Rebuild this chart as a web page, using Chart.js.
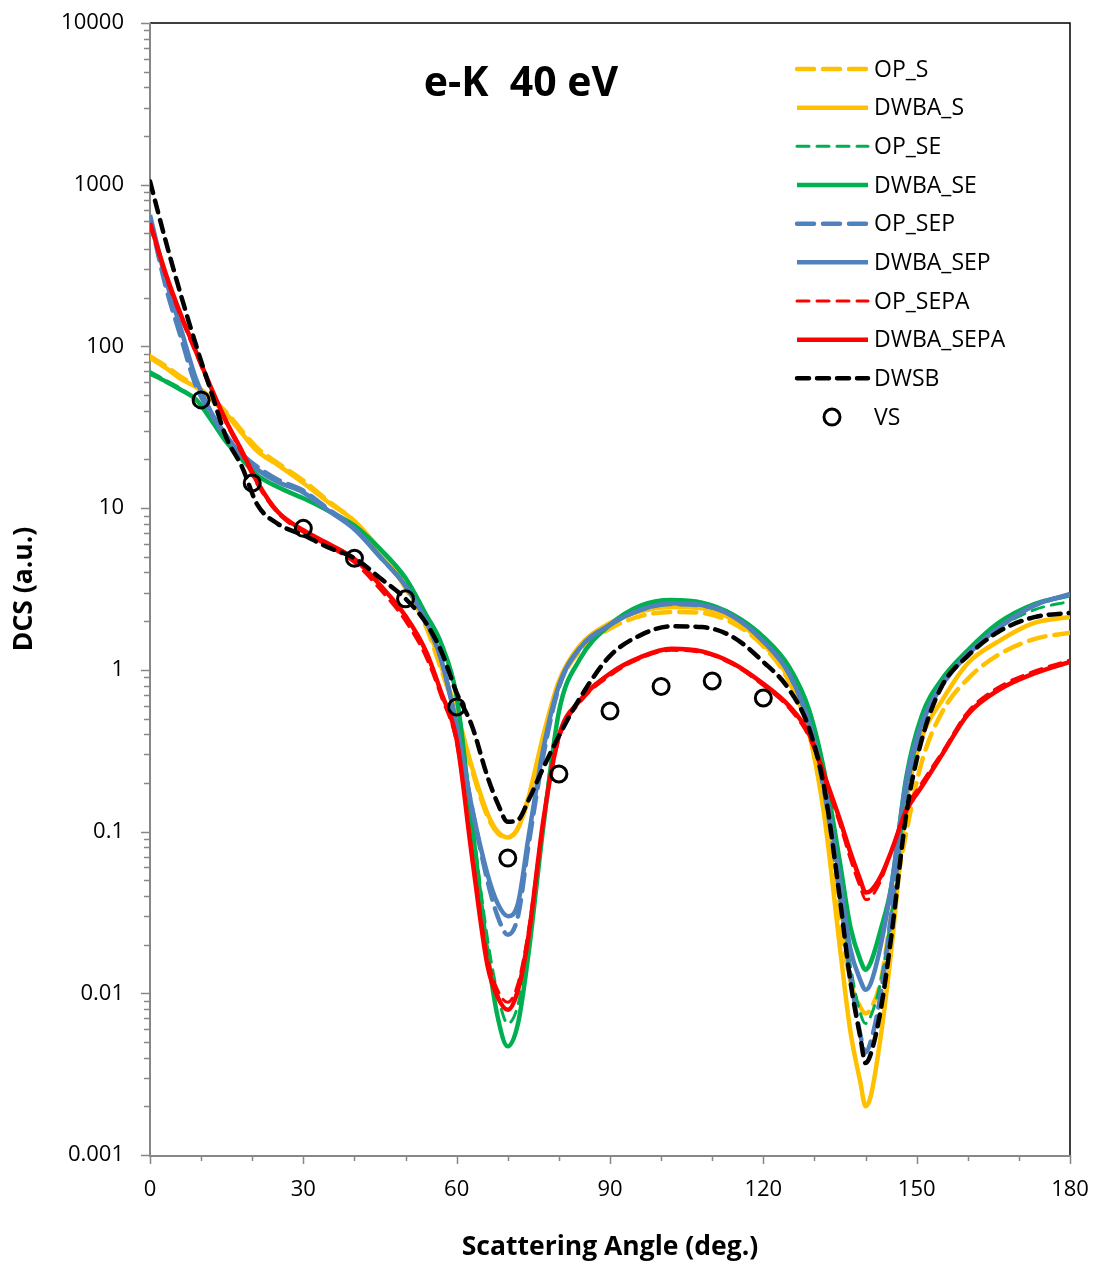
<!DOCTYPE html>
<html><head><meta charset="utf-8">
<script src="https://cdn.jsdelivr.net/npm/chart.js@4.4.1/dist/chart.umd.min.js"></script>
<style>html,body{margin:0;padding:0;background:#fff;} canvas{display:block;}</style>
</head><body>
<canvas id="c" width="1093" height="1261"></canvas>
<script>
// ---------------- data ----------------
const angles = [0, 3, 6, 9, 12, 15, 18, 21, 25, 30, 35, 40, 45, 50, 54, 57, 60, 63, 66, 68, 70, 72, 74, 77, 80, 84, 90, 96, 102, 108, 114, 120, 125, 129, 132, 135, 137, 139, 140, 141, 143, 145, 148, 151, 155, 160, 166, 173, 180];

const OP_S = [87, 76, 65, 57, 48, 39, 30, 23.5, 19, 14.8, 11, 8.3, 5.4, 3.2, 1.85, 1.0, 0.52, 0.24, 0.125, 0.098, 0.092, 0.105, 0.16, 0.38, 0.8, 1.3, 1.8, 2.15, 2.28, 2.25, 1.95, 1.4, 0.85, 0.4, 0.13, 0.028, 0.012, 0.0082, 0.0075, 0.008, 0.012, 0.03, 0.1, 0.27, 0.55, 0.88, 1.24, 1.55, 1.7];
const DWBA_S = [85, 74, 63, 56, 47, 38, 29, 22.5, 18.5, 14.3, 10.8, 8.3, 5.5, 3.3, 1.95, 1.05, 0.55, 0.25, 0.13, 0.1, 0.092, 0.105, 0.16, 0.4, 0.85, 1.4, 1.95, 2.3, 2.45, 2.4, 2.05, 1.45, 0.88, 0.4, 0.12, 0.019, 0.0059, 0.0028, 0.002, 0.0023, 0.0055, 0.018, 0.15, 0.38, 0.65, 1.1, 1.5, 1.95, 2.12];
const OP_SE = [70, 62, 55, 47, 36, 26, 20, 16, 13.5, 11.5, 9.5, 7.8, 5.6, 3.6, 2.15, 1.4, 0.7, 0.12, 0.022, 0.01, 0.0065, 0.0085, 0.02, 0.12, 0.55, 1.15, 1.9, 2.45, 2.65, 2.55, 2.15, 1.55, 1.0, 0.52, 0.2, 0.045, 0.015, 0.0075, 0.0065, 0.0072, 0.012, 0.03, 0.17, 0.45, 0.8, 1.22, 1.8, 2.35, 2.65];
const DWBA_SE = [68, 61, 54, 47, 35, 25.5, 20, 16, 13.5, 11.5, 9.6, 7.8, 5.6, 3.7, 2.2, 1.45, 0.68, 0.11, 0.018, 0.0072, 0.0047, 0.0065, 0.017, 0.11, 0.55, 1.15, 1.9, 2.5, 2.7, 2.6, 2.2, 1.6, 1.05, 0.56, 0.23, 0.064, 0.026, 0.016, 0.014, 0.0155, 0.025, 0.045, 0.22, 0.52, 0.88, 1.32, 1.95, 2.55, 2.9];
const OP_SEP = [620, 240, 115, 57, 38, 27, 21.5, 18, 15, 12.8, 9.8, 7.5, 5.0, 3.3, 2.0, 1.15, 0.45, 0.14, 0.05, 0.03, 0.023, 0.03, 0.08, 0.3, 0.78, 1.35, 1.9, 2.35, 2.55, 2.5, 2.15, 1.5, 0.95, 0.45, 0.17, 0.04, 0.013, 0.0055, 0.0043, 0.005, 0.01, 0.03, 0.18, 0.45, 0.8, 1.25, 1.82, 2.5, 2.92];
const DWBA_SEP = [650, 265, 130, 63, 39, 28, 21, 17.3, 14.5, 12.5, 9.6, 7.4, 5.0, 3.3, 2.0, 1.15, 0.45, 0.14, 0.055, 0.036, 0.03, 0.036, 0.09, 0.33, 0.8, 1.35, 1.9, 2.35, 2.58, 2.52, 2.15, 1.5, 0.95, 0.47, 0.19, 0.05, 0.019, 0.012, 0.0105, 0.0115, 0.02, 0.045, 0.21, 0.47, 0.82, 1.25, 1.82, 2.5, 2.95];
const OP_SEPA = [560, 275, 152, 90, 53, 33, 21.5, 14, 9.3, 7.1, 5.8, 4.6, 3.15, 2.0, 1.2, 0.68, 0.35, 0.075, 0.017, 0.0105, 0.0088, 0.0115, 0.024, 0.12, 0.37, 0.62, 0.92, 1.18, 1.32, 1.28, 1.08, 0.8, 0.58, 0.38, 0.21, 0.11, 0.068, 0.045, 0.038, 0.039, 0.05, 0.075, 0.14, 0.2, 0.31, 0.55, 0.78, 0.98, 1.15];
const DWBA_SEPA = [580, 287, 158, 93, 55, 34, 22.5, 14.5, 9.5, 7.3, 6.0, 4.85, 3.35, 2.15, 1.3, 0.72, 0.37, 0.07, 0.015, 0.0095, 0.0079, 0.0105, 0.022, 0.12, 0.39, 0.64, 0.95, 1.2, 1.35, 1.3, 1.1, 0.82, 0.6, 0.4, 0.22, 0.118, 0.075, 0.05, 0.042, 0.043, 0.053, 0.075, 0.135, 0.19, 0.3, 0.53, 0.75, 0.95, 1.12];
const DWSB = [1050, 457, 210, 102, 52, 27, 18, 10.5, 8.0, 6.8, 5.7, 4.9, 3.7, 2.75, 1.95, 1.3, 0.72, 0.45, 0.22, 0.15, 0.115, 0.118, 0.155, 0.25, 0.39, 0.66, 1.22, 1.64, 1.86, 1.84, 1.6, 1.12, 0.76, 0.43, 0.18, 0.038, 0.012, 0.0053, 0.0037, 0.0042, 0.008, 0.022, 0.13, 0.37, 0.8, 1.22, 1.72, 2.12, 2.25];

const vsAngles = [10, 20, 30, 40, 50, 60, 70, 80, 90, 100, 110, 120];
const VS = [46.7, 14.3, 7.5, 4.9, 2.75, 0.59, 0.0686, 0.227, 0.556, 0.79, 0.853, 0.67];

const xTickLabels = ['0', '30', '60', '90', '120', '150', '180'];
const yTickLabels = ['0.001', '0.01', '0.1', '1', '10', '100', '1000', '10000'];
const chartTitle = 'e-K  40 eV';
const xTitle = 'Scattering Angle (deg.)';
const yTitle = 'DCS (a.u.)';

// ---------------- build ----------------
const FONT = "'Open Sans', 'DejaVu Sans', sans-serif";
Chart.defaults.font.family = FONT;
Chart.defaults.color = '#000';

function pts(xs, ys) { return xs.map((x, i) => ({ x: x, y: ys[i] })); }

const lineSeries = [
  { label: 'OP_S', values: OP_S, color: '#FFC000', width: 4.5, dash: [17, 9] },
  { label: 'DWBA_S', values: DWBA_S, color: '#FFC000', width: 4.5, dash: [] },
  { label: 'OP_SE', values: OP_SE, color: '#00B050', width: 3, dash: [12, 8] },
  { label: 'DWBA_SE', values: DWBA_SE, color: '#00B050', width: 4.5, dash: [] },
  { label: 'OP_SEP', values: OP_SEP, color: '#4F81BD', width: 4.5, dash: [17, 9] },
  { label: 'DWBA_SEP', values: DWBA_SEP, color: '#4F81BD', width: 4.5, dash: [] },
  { label: 'OP_SEPA', values: OP_SEPA, color: '#FF0000', width: 3, dash: [12, 8] },
  { label: 'DWBA_SEPA', values: DWBA_SEPA, color: '#FF0000', width: 4.5, dash: [] },
  { label: 'DWSB', values: DWSB, color: '#000000', width: 4.5, dash: [12, 8] }
];

const datasets = lineSeries.map((s, i) => ({
  label: s.label,
  data: pts(angles, s.values),
  borderColor: s.color,
  backgroundColor: s.color,
  borderWidth: s.width,
  borderDash: s.dash,
  borderCapStyle: s.dash.length ? 'round' : 'butt',
  pointRadius: 0,
  cubicInterpolationMode: 'monotone',
  fill: false,
  order: 20 - i
}));
datasets.push({
  label: 'VS',
  data: pts(vsAngles, VS),
  showLine: false,
  pointRadius: 8,
  pointBorderWidth: 3,
  pointBorderColor: '#000',
  pointBackgroundColor: 'rgba(0,0,0,0)',
  borderColor: '#000',
  order: 1
});

const PLOT = { left: 150, right: 1070, top: 23, bottom: 1155 };

const framePlugin = {
  id: 'frame',
  beforeDatasetsDraw(chart) {
    const ctx = chart.ctx, xs = chart.scales.x, ys = chart.scales.y, a = chart.chartArea;
    ctx.save();
    ctx.strokeStyle = '#000'; ctx.lineWidth = 1.5;
    ctx.beginPath();
    ctx.moveTo(a.left, a.top); ctx.lineTo(a.right, a.top); ctx.lineTo(a.right, a.bottom);
    ctx.stroke();
    ctx.strokeStyle = '#878787'; ctx.lineWidth = 2;
    ctx.beginPath();
    ctx.moveTo(a.left, a.top); ctx.lineTo(a.left, a.bottom + 1); ctx.lineTo(a.right, a.bottom + 1);
    ctx.stroke();
    ctx.lineWidth = 1.5;
    ctx.beginPath();
    for (let v = 0; v <= 180; v += 10) {
      const px = Math.round(xs.getPixelForValue(v)) + 0.5;
      const len = (v % 30 === 0) ? 9 : 6;
      ctx.moveTo(px, a.bottom); ctx.lineTo(px, a.bottom + len);
    }
    for (let e = -3; e <= 4; e++) {
      for (let k = 1; k <= 9; k++) {
        if (e === 4 && k > 1) break;
        const v = k * Math.pow(10, e);
        const py = Math.round(ys.getPixelForValue(v)) + 0.5;
        const len = (k === 1) ? 9 : 6;
        ctx.moveTo(a.left - len, py); ctx.lineTo(a.left, py);
      }
    }
    ctx.stroke();
    ctx.restore();
  },
  afterDraw(chart) {
    const ctx = chart.ctx;
    ctx.save();
    ctx.fillStyle = '#000';
    ctx.font = "bold 41px " + FONT;
    ctx.textAlign = 'center'; ctx.textBaseline = 'middle';
    ctx.fillText(chartTitle, 521, 84);
    const x0 = 797, x1 = 868, tx = 874, y0 = 69, dy = 38.67;
    ctx.font = "23px " + FONT;
    ctx.textAlign = 'left';
    chart.data.datasets.forEach((ds, i) => {
      const y = y0 + i * dy;
      if (ds.showLine === false) {
        ctx.setLineDash([]);
        ctx.strokeStyle = ds.pointBorderColor; ctx.lineWidth = ds.pointBorderWidth;
        ctx.beginPath(); ctx.arc(832, y, ds.pointRadius, 0, Math.PI * 2); ctx.stroke();
      } else {
        ctx.strokeStyle = ds.borderColor; ctx.lineWidth = ds.borderWidth;
        ctx.setLineDash(ds.borderDash);
        ctx.lineCap = ds.borderCapStyle;
        ctx.beginPath(); ctx.moveTo(x0, y); ctx.lineTo(x1, y); ctx.stroke();
      }
      ctx.setLineDash([]);
      ctx.fillStyle = '#000';
      ctx.fillText(ds.label, tx, y + 1);
    });
    ctx.restore();
  }
};

function isDecade(v) { const l = Math.log10(v); return Math.abs(l - Math.round(l)) < 1e-6; }

new Chart(document.getElementById('c'), {
  type: 'line',
  data: { datasets: datasets },
  options: {
    responsive: false,
    animation: false,
    devicePixelRatio: 1,
    layout: { padding: { top: PLOT.top, right: 1093 - PLOT.right, left: 0, bottom: 0 } },
    plugins: { legend: { display: false }, tooltip: { enabled: false } },
    scales: {
      x: {
        type: 'linear', min: 0, max: 180,
        grid: { display: false, drawTicks: true, tickLength: 22 },
        border: { display: false },
        ticks: {
          stepSize: 10, autoSkip: false, maxRotation: 0, padding: 0,
          font: { size: 22 },
          callback: (v) => (v % 30 === 0 ? xTickLabels[v / 30] : '')
        },
        title: { display: true, text: xTitle, font: { size: 26.5, weight: 'bold', lineHeight: 1.05 }, padding: { top: 0, bottom: 0 } },
        afterFit: (s) => { s.height = 1261 - PLOT.bottom; }
      },
      y: {
        type: 'logarithmic', min: 0.001, max: 10000,
        grid: { display: false, drawTicks: true, tickLength: 26 },
        border: { display: false },
        ticks: {
          autoSkip: false, padding: 0,
          font: { size: 22 },
          callback: (v) => (isDecade(v) ? yTickLabels[Math.round(Math.log10(v)) + 3] : '')
        },
        title: { display: true, text: yTitle, font: { size: 26.5, weight: 'bold', lineHeight: 1.05 }, padding: { top: 11, bottom: 0 } },
        afterFit: (s) => { s.width = PLOT.left; }
      }
    }
  },
  plugins: [framePlugin]
});
</script>
</body></html>
